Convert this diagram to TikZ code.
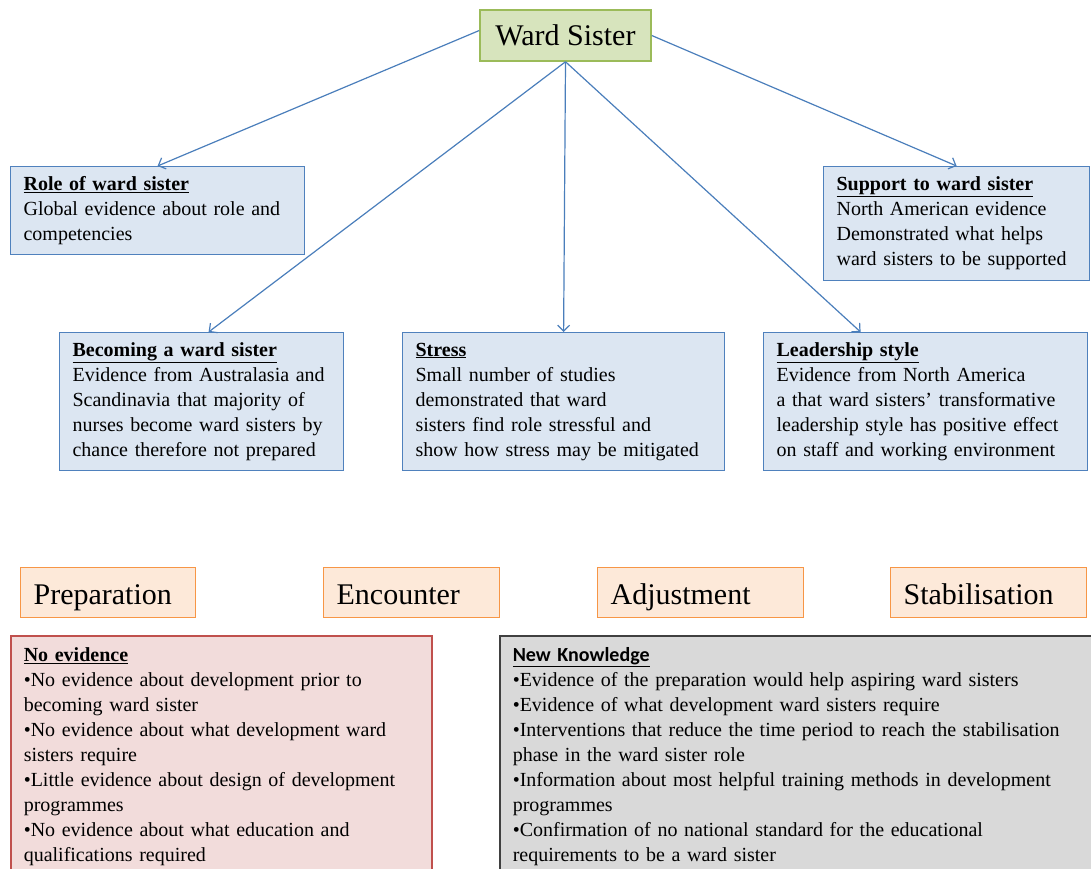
\documentclass[tikz,border=0pt]{standalone}
\usepackage{fontspec}
\setmainfont{Liberation Serif}
\newfontfamily\headfont{Carlito}
\usepackage{tikz}
\usetikzlibrary{arrows.meta,positioning}

\definecolor{wsfill}{HTML}{D7E4BD}
\definecolor{wsline}{HTML}{9BBB59}
\definecolor{evfill}{HTML}{DCE6F2}
\definecolor{evline}{HTML}{4F81BD}
\definecolor{phfill}{HTML}{FDE9D9}
\definecolor{phline}{HTML}{F79646}
\definecolor{nofill}{HTML}{F2DCDB}
\definecolor{noline}{HTML}{C0504D}
\definecolor{nkfill}{HTML}{D9D9D9}
\definecolor{nkline}{HTML}{404040}
\definecolor{arrowc}{HTML}{4A7EBB}

\begin{document}
\begin{tikzpicture}[x=1pt,y=-1pt]
		\tikzstyle{m1}=[fill=wsfill, draw=wsline, line width=1.5pt, font=\fontsize{30}{36}\selectfont, minimum width=171pt, minimum height=51pt, inner sep=0pt]
		\tikzstyle{m2}=[fill=evfill, draw=evline, line width=1.2pt, font=\fontsize{20}{25}\selectfont, align=left, inner xsep=13pt, inner ysep=4pt, anchor=north west]
		\tikzstyle{m3}=[fill=phfill, draw=phline, line width=1.2pt, font=\fontsize{30}{36}\selectfont, align=left, inner xsep=13pt, inner ysep=0pt, text height=27pt, text depth=3pt, minimum height=50pt, anchor=north west]
		\tikzstyle{m4}=[fill=nofill, draw=noline, line width=1.5pt, font=\fontsize{20}{25}\selectfont, align=left, inner xsep=13pt, inner ysep=12pt, anchor=north west]
		\tikzstyle{m5}=[fill=nkfill, draw=nkline, line width=1.5pt, font=\fontsize{20}{25}\selectfont, align=left, inner xsep=13pt, inner ysep=12pt, anchor=north west]
		\tikzstyle{a1}=[draw=arrowc, line width=1.2pt, -{Straight Barb[length=6pt,width=12pt]}]

		\useasboundingbox (0,0) rectangle (1091,868);
		\clip (0,0) rectangle (1091,868);

		% literature themes
		\node[m1] (ws) at (565.5,35.5) {Ward Sister};
		\node[m2, text width=268pt, minimum height=88pt] (role) at (10,166) {\underline{\textbf{Role of ward sister}}\\Global evidence about role and\\competencies};
		\node[m2, text width=240pt, minimum height=114pt] (support) at (823,166) {\underline{\textbf{Support to ward sister}}\\North American evidence\\Demonstrated what helps\\ward sisters to be supported};
		\node[m2, text width=258pt, minimum height=138pt] (becoming) at (59,332) {\underline{\textbf{Becoming a ward sister}}\\Evidence from Australasia and\\Scandinavia that majority of\\nurses become ward sisters by\\chance therefore not prepared};
		\node[m2, text width=296pt, minimum height=138pt] (stress) at (402,332) {\underline{\textbf{Stress}}\\Small number of studies\\demonstrated that ward\\sisters find role stressful and\\show how stress may be mitigated};
		\node[m2, text width=298pt, minimum height=138pt] (leader) at (763,332) {\underline{\textbf{Leadership style}}\\Evidence from North America\\a that ward sisters’ transformative\\leadership style has positive effect\\on staff and working environment};

		\draw[a1] ([yshift=5pt]ws.west) to (role.north);
		\draw[a1] (ws.east) to (support.north);
		\draw[a1] (ws.south) to ([xshift=7pt]becoming.north);
		\draw[a1] (ws.south) to (stress.north);
		\draw[a1] (ws.south) to ([xshift=-65pt]leader.north);

		% phases
		\node[m3, text width=149pt] (prep) at (20,567) {Preparation};
		\node[m3, text width=150pt] (enc) at (323,567) {Encounter};
		\node[m3, text width=180pt] (adj) at (597,567) {Adjustment};
		\node[m3, text width=170pt] (stab) at (890,567) {Stabilisation};

		% gaps
		\node[m4, text width=395pt] (noev) at (10,635) {\underline{\textbf{No evidence}}\\
			•No evidence about development prior to\\becoming ward sister\\
			•No evidence about what development ward\\sisters require\\
			•Little evidence about design of development\\programmes\\
			•No evidence about what education and\\qualifications required};
		\node[m5, text width=600pt] (newk) at (499,635) {{\headfont\fontsize{20}{25}\selectfont\underline{\textbf{New Knowledge}}}\\
			•Evidence of the preparation would help aspiring ward sisters\\
			•Evidence of what development ward sisters require\\
			•Interventions that reduce the time period to reach the stabilisation\\phase in the ward sister role\\
			•Information about most helpful training methods in development\\programmes\\
			•Confirmation of no national standard for the educational\\requirements to be a ward sister};
\end{tikzpicture}
\end{document}
